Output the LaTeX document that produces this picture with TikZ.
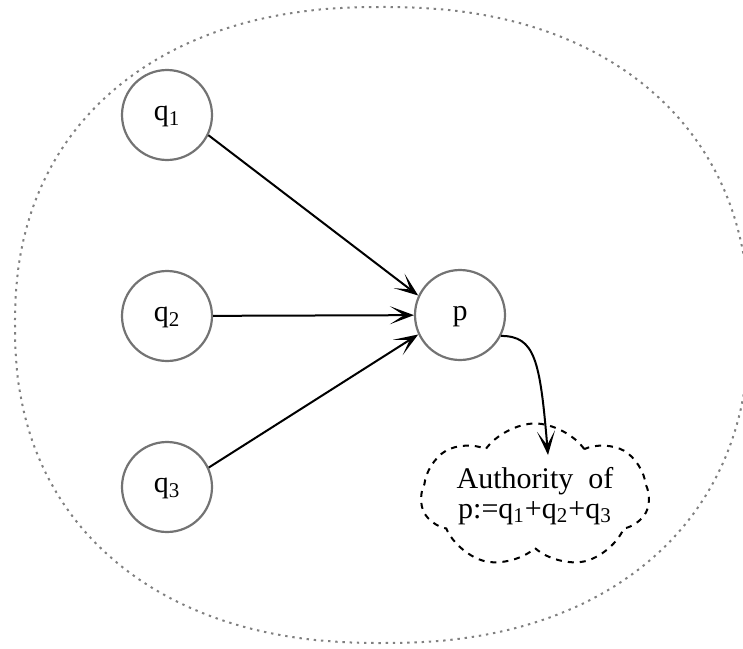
\documentclass[tikz,border=0pt]{standalone}
\usepackage{fontspec}
\setmainfont{Liberation Serif}
\usepackage{tikz}
\usetikzlibrary{positioning}
\usetikzlibrary{arrows, arrows.meta}
\usetikzlibrary{shapes.symbols}

\begin{document}
\begin{tikzpicture}[x=0.5pt, y=-0.5pt,
    vert/.style={circle, draw=black!55, line width=1.1pt, minimum size=45pt, inner sep=0pt,
                 text height=1.5ex, text depth=0.25ex, font=\fontsize{15}{18}\selectfont},
    link/.style={line width=1pt, -{Stealth[length=12pt, width=9pt, inset=7pt]}}]
    \useasboundingbox (0,0) rectangle (743,648);

    % outer boundary (a slightly squared ellipse)
    \def\EX{382}
    \def\EY{325}
    \draw[black!50, line width=1pt, dash pattern=on 1.2pt off 2.4pt]
        plot[domain=0.5:358.5, samples=180, smooth, variable=\t]
        ({\EX+367*sign(cos(\t))*abs(cos(\t))^0.889}, {\EY+318*sign(sin(\t))*abs(sin(\t))^0.889}) -- cycle;

    \def\QX{167}
    \node[vert] (Q1) at (\QX,115) {q\textsubscript{1}};
    \node[vert] (Q2) at (\QX,316) {q\textsubscript{2}};
    \node[vert] (Q3) at (\QX,487) {q\textsubscript{3}};
    \node[vert] (P) at (460,315) {p};

    \node[cloud, draw, dashed, line width=1pt, cloud puffs=7, cloud puff arc=110, aspect=2.1,
          minimum width=114pt, minimum height=58pt, inner sep=0pt, align=center,
          font=\fontsize{15}{15}\selectfont] (Auth) at (535,496) {Authority\enspace of\\p:=q\textsubscript{1}+q\textsubscript{2}+q\textsubscript{3}};
    \coordinate (T) at (548,455);

    \draw[link] (Q1.-26) -- (P.155);
    \draw[link] (Q2) -- (P);
    \draw[link] (Q3.25) -- (P.205);
    \draw[link] (P.-27) .. controls (535,336) and (540,360) .. (T);

\end{tikzpicture}
\end{document}
